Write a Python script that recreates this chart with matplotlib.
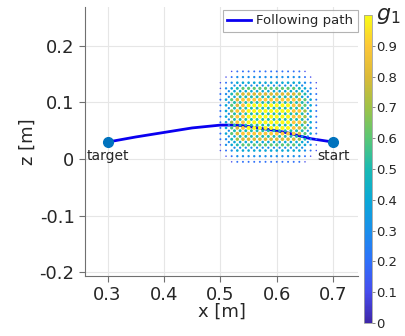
import numpy as np
import matplotlib
matplotlib.use('Agg')
import matplotlib.pyplot as plt
from matplotlib.colors import LinearSegmentedColormap

# parula-like colormap anchors (approximate)
parula_pts = [(0.2422, 0.1504, 0.6603), (0.2780, 0.3000, 0.9300),
              (0.1800, 0.4400, 0.9800), (0.1000, 0.5600, 0.9200),
              (0.0400, 0.6600, 0.8400), (0.1000, 0.7300, 0.7000),
              (0.3500, 0.7800, 0.4600), (0.6200, 0.7600, 0.2800),
              (0.8600, 0.7300, 0.2200), (0.9900, 0.7800, 0.2200),
              (0.9769, 0.9839, 0.0805)]

# path (x, z) in metres
path_x = [0.70, 0.68, 0.66, 0.64, 0.62, 0.60, 0.58, 0.56, 0.54, 0.52, 0.50,
          0.45, 0.40, 0.35, 0.30]
path_z = [0.030, 0.033, 0.036, 0.041, 0.046, 0.050, 0.053, 0.056, 0.059,
          0.060, 0.060, 0.055, 0.047, 0.039, 0.030]
start_xz = (0.70, 0.030)
target_xz = (0.30, 0.030)

# g1 grid (main slice)
grid_x = [0.500, 0.510, 0.520, 0.530, 0.540, 0.550, 0.560, 0.570, 0.580,
          0.590, 0.600, 0.610, 0.620, 0.630, 0.640, 0.650, 0.660, 0.670]
grid_z = [0.155, 0.145, 0.135, 0.125, 0.115, 0.105, 0.095, 0.085, 0.075,
          0.065, 0.055, 0.045, 0.035, 0.025, 0.015, 0.005, -0.005]
g1_tenths = [
    [0, 0, 1, 2, 2, 2, 2, 2, 2, 2, 2, 2, 2, 2, 2, 1, 0, 0],
    [0, 1, 2, 3, 3, 3, 3, 3, 3, 3, 3, 3, 3, 3, 3, 2, 1, 0],
    [1, 2, 3, 4, 4, 4, 4, 4, 4, 4, 4, 4, 4, 4, 4, 3, 2, 1],
    [1, 3, 4, 5, 6, 6, 6, 6, 6, 6, 6, 6, 6, 6, 5, 4, 3, 1],
    [2, 3, 5, 7, 8, 8, 8, 8, 8, 8, 8, 8, 8, 8, 7, 5, 3, 2],
    [2, 4, 6, 8, 9, 9, 9, 9, 9, 9, 9, 9, 9, 9, 8, 6, 4, 2],
    [2, 4, 6, 8, 9, 10, 10, 10, 10, 10, 10, 10, 10, 9, 8, 6, 4, 2],
    [2, 4, 7, 9, 9, 10, 10, 10, 10, 10, 10, 10, 10, 9, 9, 7, 4, 2],
    [2, 4, 7, 9, 9, 10, 10, 10, 10, 10, 10, 10, 10, 9, 9, 7, 4, 2],
    [2, 4, 7, 9, 9, 10, 10, 10, 10, 10, 10, 10, 10, 9, 9, 7, 4, 2],
    [2, 4, 6, 8, 9, 10, 10, 10, 10, 10, 10, 10, 10, 9, 8, 6, 4, 2],
    [2, 4, 6, 8, 9, 9, 9, 9, 9, 9, 9, 9, 9, 9, 8, 6, 4, 2],
    [2, 3, 5, 7, 8, 8, 8, 8, 8, 8, 8, 8, 8, 8, 7, 5, 3, 2],
    [1, 3, 4, 5, 6, 6, 6, 6, 6, 6, 6, 6, 6, 6, 5, 4, 3, 1],
    [1, 2, 3, 4, 4, 4, 4, 4, 4, 4, 4, 4, 4, 4, 4, 3, 2, 1],
    [0, 1, 2, 3, 3, 3, 3, 3, 3, 3, 3, 3, 3, 3, 3, 2, 1, 0],
    [0, 0, 1, 2, 2, 2, 2, 2, 2, 2, 2, 2, 2, 2, 2, 1, 0, 0],
]

# offset slice seen between the main dots (greenish inside the core)
grid2_x = [0.505, 0.515, 0.525, 0.535, 0.545, 0.555, 0.565, 0.575, 0.585,
           0.595, 0.605, 0.615, 0.625, 0.635, 0.645, 0.655, 0.665]
grid2_z = [0.150, 0.140, 0.130, 0.120, 0.110, 0.100, 0.090, 0.080, 0.070,
           0.060, 0.050, 0.040, 0.030, 0.020, 0.010, 0.000]
g1b_tenths = [
    [0, 0, 0, 0, 0, 0, 0, 0, 0, 0, 0, 0, 0, 0, 0, 0, 0],
    [0, 0, 0, 0, 0, 0, 0, 0, 0, 0, 0, 0, 0, 0, 0, 0, 0],
    [0, 0, 3, 3, 3, 3, 3, 3, 3, 3, 3, 3, 3, 3, 3, 0, 0],
    [0, 3, 4, 4, 4, 4, 4, 4, 4, 4, 4, 4, 4, 4, 4, 3, 0],
    [0, 3, 4, 5, 5, 5, 5, 5, 5, 5, 5, 5, 5, 5, 4, 3, 0],
    [0, 3, 5, 5, 5, 5, 5, 5, 5, 5, 5, 5, 5, 5, 5, 3, 0],
    [0, 3, 5, 5, 5, 5, 5, 5, 5, 5, 5, 5, 5, 5, 5, 3, 0],
    [0, 3, 5, 5, 5, 5, 5, 5, 5, 5, 5, 5, 5, 5, 5, 3, 0],
    [0, 3, 5, 5, 5, 5, 5, 5, 5, 5, 5, 5, 5, 5, 5, 3, 0],
    [0, 3, 5, 5, 5, 5, 5, 5, 5, 5, 5, 5, 5, 5, 5, 3, 0],
    [0, 3, 5, 5, 5, 5, 5, 5, 5, 5, 5, 5, 5, 5, 5, 3, 0],
    [0, 3, 4, 5, 5, 5, 5, 5, 5, 5, 5, 5, 5, 5, 4, 3, 0],
    [0, 3, 4, 4, 4, 4, 4, 4, 4, 4, 4, 4, 4, 4, 4, 3, 0],
    [0, 0, 3, 3, 3, 3, 3, 3, 3, 3, 3, 3, 3, 3, 3, 0, 0],
    [0, 0, 0, 0, 0, 0, 0, 0, 0, 0, 0, 0, 0, 0, 0, 0, 0],
    [0, 0, 0, 0, 0, 0, 0, 0, 0, 0, 0, 0, 0, 0, 0, 0, 0],
]

x_ticks = [0.3, 0.4, 0.5, 0.6, 0.7]
z_ticks = [-0.2, -0.1, 0, 0.1, 0.2]
cb_ticks = [0, 0.1, 0.2, 0.3, 0.4, 0.5, 0.6, 0.7, 0.8, 0.9]

txt_col = '#262626'
ax_col = '#707070'

plt.rcParams.update({'font.family': 'DejaVu Sans', 'text.color': txt_col,
                     'axes.labelcolor': txt_col, 'xtick.color': ax_col,
                     'ytick.color': ax_col, 'xtick.labelcolor': txt_col,
                     'ytick.labelcolor': txt_col})

cmap = LinearSegmentedColormap.from_list('parula', parula_pts)

fig = plt.figure(figsize=(4.06, 3.36), dpi=100)
ax = fig.add_axes([0.2094, 0.1786, 0.6724, 0.8006])
cax = fig.add_axes([0.8966, 0.0387, 0.0197, 0.9167])

ax.set_xlim(0.26, 0.744)
ax.set_ylim(-0.207, 0.269)
ax.set_xticks(x_ticks)
ax.set_yticks(z_ticks)
ax.set_yticklabels(['-0.2', '-0.1', '0', '0.1', '0.2'])
ax.tick_params(labelsize=13, length=4, width=0.8, direction='out')
ax.grid(True, color='#e6e6e6', linewidth=0.8)
ax.set_axisbelow(True)
for s in ['top', 'right']:
    ax.spines[s].set_visible(False)
for s in ['left', 'bottom']:
    ax.spines[s].set_color(ax_col)
    ax.spines[s].set_linewidth(0.8)
ax.set_xlabel('x [m]', fontsize=13, labelpad=-1)
ax.set_ylabel('z [m]', fontsize=13, labelpad=2)

ax.plot(path_x, path_z, '-', color='#0a00f0', linewidth=2, zorder=2,
        label='Following path')

# main slice
gx, gz = np.meshgrid(grid_x, grid_z)
g = np.array(g1_tenths) / 10.0
m = g > 0
sc = ax.scatter(gx[m], gz[m], c=g[m], s=g[m] * 8 + 0.4, cmap=cmap, vmin=0,
                vmax=1, marker='o', linewidths=0, zorder=3)
# offset slice
gx2, gz2 = np.meshgrid(grid2_x, grid2_z)
g2 = np.array(g1b_tenths) / 10.0
m2 = g2 > 0
ax.scatter(gx2[m2], gz2[m2], c=g2[m2], s=g2[m2] * 9, cmap=cmap,
           vmin=0, vmax=1, marker='o', linewidths=0, zorder=3)

ax.plot(*start_xz, 'o', color='#0072bd', markersize=7, zorder=4)
ax.plot(*target_xz, 'o', color='#0072bd', markersize=7, zorder=4)
ax.text(start_xz[0], start_xz[1] - 0.012, 'start', fontsize=10,
        ha='center', va='top', color=txt_col)
ax.text(target_xz[0], target_xz[1] - 0.012, 'target', fontsize=10,
        ha='center', va='top', color=txt_col)

leg = ax.legend(loc='upper right', bbox_to_anchor=(1.01, 1.0), fontsize=9.5,
                frameon=True, fancybox=False, borderpad=0.35,
                handlelength=1.8, handletextpad=0.4, borderaxespad=0.2)
leg.get_frame().set_edgecolor('#a0a0a0')
leg.get_frame().set_linewidth(0.8)

cb = fig.colorbar(sc, cax=cax, ticks=cb_ticks)
cb.ax.set_yticklabels(['0', '0.1', '0.2', '0.3', '0.4', '0.5', '0.6', '0.7',
                       '0.8', '0.9'])
cb.ax.tick_params(labelsize=9.5, length=2, width=0.6, color=ax_col, pad=1)
cb.outline.set_edgecolor('#a0a0a0')
cb.outline.set_linewidth(0.6)
fig.text(0.925, 0.952, '$g_1$', fontsize=16, ha='left', va='center',
         color=txt_col)

fig.savefig('out.png', dpi=100)
